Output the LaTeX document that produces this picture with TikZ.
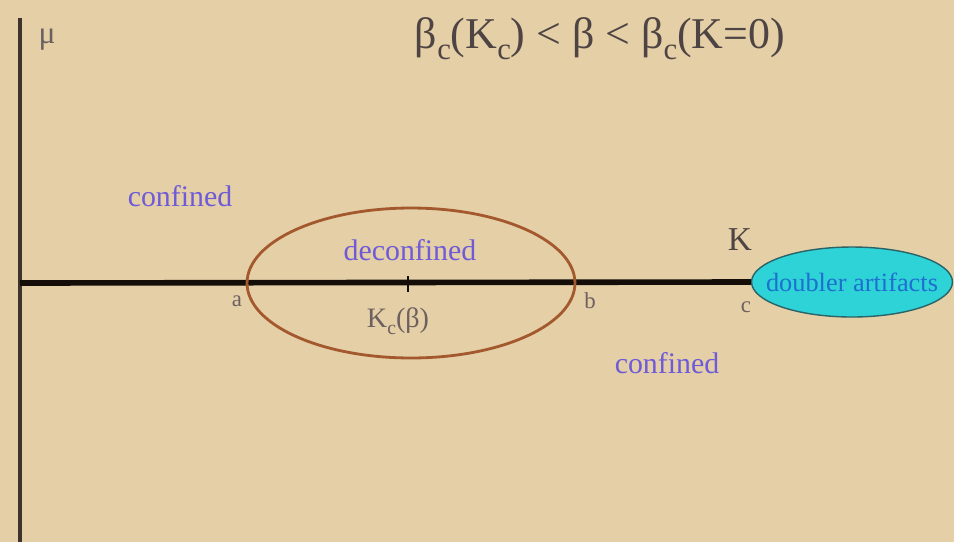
\documentclass[tikz,border=0pt]{standalone}
\usepackage{fontspec}
\setmainfont{Liberation Serif}
\usepackage{graphicx}
\usetikzlibrary{positioning,shapes.geometric}
\definecolor{paper}{HTML}{E4CFA6}
\definecolor{axisc}{HTML}{3E332C}
\definecolor{linec}{HTML}{140D08}
\definecolor{ringc}{HTML}{A4582E}
\definecolor{phase}{HTML}{6F5BD8}
\definecolor{dblfill}{HTML}{2DD3D6}
\definecolor{dbldraw}{HTML}{2A6468}
\definecolor{dbltext}{HTML}{1E6FD0}
\definecolor{inkc}{HTML}{4E4444}
\definecolor{softink}{HTML}{6E6060}
\newcommand{\lowsub}[1]{\raisebox{-0.55ex}{\scalebox{0.7}{#1}}}

\begin{document}
\begin{tikzpicture}[
  x=0.02cm, y=-0.02cm,
  phaselbl/.style={font=\fontsize{17}{20}\selectfont, text=phase, inner sep=0pt},
  ptlbl/.style={font=\fontsize{13}{15}\selectfont, text=softink, inner sep=0pt},
  ring/.style={ellipse, draw=ringc, line width=1.6pt, inner sep=0pt},
]
\fill[paper] (0,0) rectangle (954,542);
\useasboundingbox (0,0) rectangle (954,542);
% axes
\coordinate (mutop) at (20,18);
\coordinate (mubot) at (20,542);
\coordinate (origin) at (20,283);
\draw[axisc, line width=2.8pt] (mutop) -- (mubot);
\node[font=\fontsize{18}{20}\selectfont, text=softink] (mu) at (47,40) {μ};
\node[font=\fontsize{25}{30}\selectfont, text=inkc] (title) at (600,39)
  {β\lowsub{c}(K\lowsub{c}) < β < β\lowsub{c}(K=0)};
% doubler region
\node[ellipse, fill=dblfill, draw=dbldraw, line width=0.8pt, minimum width=4.02cm,
  minimum height=1.4cm, inner sep=0pt] (dbl) at (852,282) {};
\node[font=\fontsize{15}{17}\selectfont, text=dbltext, inner sep=0pt] (dbltxt) at (dbl.center) {doubler artifacts};
\draw[linec, line width=3.2pt] (origin) -- (dbl.west);
% deconfined ring
\node[ring, minimum width=6.56cm, minimum height=3.0cm] (ring) at (411,283) {};
\coordinate (kc) at (408,284);
\draw[linec, line width=1.2pt] ([yshift=-0.16cm]kc) -- ([yshift=0.16cm]kc);
\node[phaselbl] (dec) at (410,250) {deconfined};
\node[font=\fontsize{16}{18}\selectfont, text=softink] (kclbl) at (398,321) {K\lowsub{c}(β)};
\node[ptlbl] (pa) at (237,301) {a};
\node[ptlbl] (pb) at (590,301) {b};
\node[ptlbl] (pc) at (746,307) {c};
\node[font=\fontsize{19}{22}\selectfont, text=inkc] (kax) at (740,240) {K};
\node[phaselbl] (conf1) at (180,196) {confined};
\node[phaselbl] (conf2) at (667,363) {confined};
\end{tikzpicture}
\end{document}
